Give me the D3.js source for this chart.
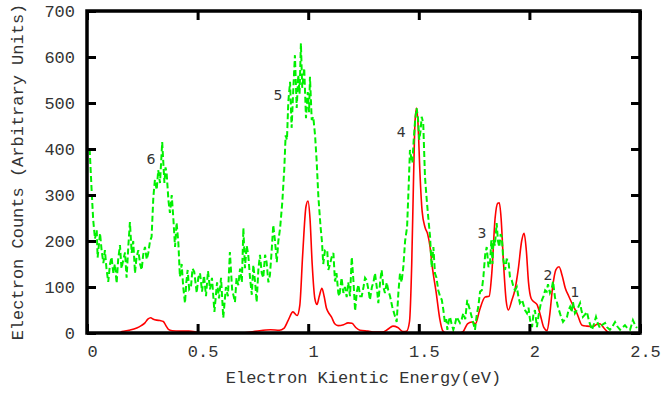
<!DOCTYPE html>
<html><head><meta charset="utf-8">
<script src="https://cdn.jsdelivr.net/npm/d3@7"></script>
<style>body{margin:0;background:#fff;} svg{display:block;}</style>
</head><body>
<svg id="chart" width="661" height="393"></svg>
<script>
// ---- data ----
const xTickValues = [0, 0.5, 1, 1.5, 2, 2.5];
const xTickLabels = ["0", "0.5", "1", "1.5", "2", "2.5"];
const yTickValues = [0, 100, 200, 300, 400, 500, 600, 700];
const yTickLabels = ["0", "100", "200", "300", "400", "500", "600", "700"];
const xTitle = "Electron Kientic Energy(eV)";
const yTitle = "Electron Counts (Arbitrary Units)";

const redEnergy = [0.150,0.158,0.190,0.225,0.245,0.262,0.275,0.288,0.300,0.315,0.330,0.345,0.358,0.368,0.385,0.420,0.460,0.496,0.520,0.700,0.740,0.780,0.830,0.870,0.890,0.910,0.931,0.950,0.962,0.975,0.990,0.999,1.008,1.018,1.030,1.040,1.050,1.062,1.072,1.082,1.090,1.105,1.120,1.135,1.160,1.180,1.198,1.215,1.234,1.270,1.300,1.335,1.360,1.383,1.405,1.429,1.445,1.458,1.468,1.476,1.483,1.490,1.497,1.505,1.515,1.528,1.540,1.550,1.562,1.578,1.595,1.608,1.625,1.680,1.700,1.720,1.740,1.756,1.775,1.799,1.818,1.830,1.845,1.857,1.864,1.872,1.882,1.895,1.905,1.920,1.935,1.950,1.965,1.976,1.986,1.996,2.008,2.020,2.034,2.050,2.065,2.080,2.092,2.105,2.120,2.134,2.148,2.162,2.178,2.195,2.215,2.238,2.260,2.288,2.305,2.319,2.335,2.355,2.370];
const redCounts = [0,3,6,11,16,22,30,33,30,28,27,25,15,8,5,4,4,2,0,0,2,5,7,6,10,28,46,38,60,170,275,287,250,150,75,62,80,97,80,55,46,35,20,16,18,22,21,12,6,4,2,2,8,15,12,3,4,25,150,330,460,489,450,350,265,230,215,190,140,90,30,5,0,0,3,20,24,20,50,78,80,130,250,282,283,250,160,70,50,70,95,140,200,217,180,110,75,68,62,38,12,5,40,100,138,144,125,98,80,62,43,17,15,14,19,20,12,2,0];

const greenEnergy = [0.012,0.022,0.028,0.036,0.044,0.048,0.059,0.066,0.074,0.081,0.088,0.096,0.104,0.111,0.119,0.126,0.134,0.141,0.149,0.156,0.164,0.172,0.179,0.187,0.194,0.202,0.209,0.217,0.224,0.232,0.240,0.247,0.254,0.262,0.270,0.277,0.285,0.292,0.300,0.307,0.315,0.322,0.330,0.340,0.350,0.355,0.360,0.368,0.375,0.383,0.390,0.398,0.405,0.413,0.420,0.428,0.435,0.443,0.449,0.455,0.462,0.470,0.477,0.485,0.496,0.503,0.511,0.520,0.529,0.538,0.547,0.556,0.565,0.576,0.588,0.597,0.606,0.616,0.628,0.637,0.646,0.656,0.669,0.676,0.684,0.692,0.700,0.707,0.714,0.722,0.729,0.737,0.745,0.752,0.760,0.767,0.775,0.782,0.790,0.797,0.805,0.812,0.820,0.827,0.835,0.842,0.850,0.858,0.865,0.873,0.883,0.892,0.898,0.904,0.910,0.918,0.925,0.933,0.940,0.948,0.955,0.961,0.967,0.973,0.982,0.990,0.998,1.004,1.008,1.016,1.023,1.031,1.038,1.046,1.056,1.062,1.068,1.076,1.086,1.091,1.099,1.106,1.114,1.121,1.128,1.136,1.141,1.151,1.159,1.166,1.174,1.181,1.189,1.197,1.205,1.212,1.220,1.227,1.235,1.242,1.250,1.257,1.264,1.272,1.279,1.288,1.295,1.302,1.310,1.317,1.325,1.332,1.340,1.347,1.355,1.362,1.370,1.380,1.390,1.400,1.408,1.415,1.422,1.430,1.438,1.447,1.455,1.460,1.466,1.471,1.477,1.483,1.490,1.496,1.502,1.508,1.513,1.520,1.528,1.536,1.543,1.551,1.558,1.566,1.573,1.580,1.588,1.596,1.604,1.611,1.618,1.624,1.629,1.635,1.641,1.648,1.656,1.664,1.671,1.679,1.686,1.694,1.701,1.710,1.719,1.725,1.731,1.742,1.754,1.762,1.769,1.777,1.785,1.792,1.800,1.807,1.815,1.822,1.828,1.833,1.837,1.844,1.852,1.858,1.864,1.870,1.875,1.882,1.890,1.897,1.905,1.912,1.920,1.928,1.935,1.943,1.950,1.957,1.967,1.980,1.989,1.996,2.003,2.012,2.018,2.025,2.034,2.042,2.050,2.057,2.064,2.071,2.078,2.084,2.093,2.100,2.107,2.116,2.123,2.129,2.140,2.152,2.161,2.170,2.177,2.184,2.191,2.197,2.206,2.215,2.229,2.235,2.242,2.251,2.260,2.270,2.283,2.292,2.301,2.310,2.319,2.330,2.342,2.352,2.364,2.375,2.387,2.398,2.410,2.421,2.432,2.444,2.455,2.462,2.468,2.477,2.486];
const greenCounts = [400,300,246,205,224,164,217,180,152,180,140,111,150,165,130,150,108,160,191,140,159,175,120,190,241,174,200,130,165,180,150,137,170,187,160,174,200,209,296,333,311,354,326,415,326,360,348,289,261,300,252,187,240,196,122,150,100,65,110,137,95,100,140,133,87,120,130,90,125,80,135,95,120,46,110,75,120,33,100,80,176,95,67,120,104,140,110,228,141,190,170,120,83,148,110,67,140,170,130,120,170,154,110,126,180,235,200,154,200,228,285,358,430,420,502,546,446,533,604,489,561,520,630,533,576,467,524,480,557,463,470,430,376,296,230,200,150,180,180,137,150,165,174,112,130,87,80,120,87,100,78,110,80,165,110,48,90,105,80,80,100,120,115,95,72,100,110,130,100,65,110,137,100,87,110,93,80,57,40,24,90,130,110,143,200,230,330,398,380,370,420,460,489,470,420,440,470,457,339,289,250,209,143,187,130,120,93,80,72,50,22,30,7,25,35,20,7,20,35,28,22,30,43,30,72,60,50,30,7,40,57,90,93,122,170,187,143,152,202,150,202,190,239,200,187,215,209,160,137,160,159,122,115,100,93,100,80,65,72,50,43,55,28,13,40,50,13,40,60,72,80,93,90,106,87,95,112,76,70,57,40,24,30,35,50,57,45,67,43,50,65,50,35,40,46,25,7,20,35,20,11,18,22,12,7,14,24,14,7,12,17,10,7,18,28,18,11];

const peakLabels = ["6", "5", "4", "3", "2", "1"];
const peakLabelEnergy = [0.289, 0.863, 1.420, 1.786, 2.084, 2.206];
const peakLabelCounts = [367, 507, 426, 207, 115, 78];

// ---- drawing ----
const svg = d3.select("#chart");
const plotLeft = 87, plotRight = 640, plotTop = 11, plotBottom = 333;
const x = d3.scaleLinear().domain([0, 2.5]).range([plotLeft, plotRight]);
const y = d3.scaleLinear().domain([0, 700]).range([plotBottom, plotTop]);
const monoFont = "'Liberation Mono', 'Courier New', monospace";
const textColor = "#333";

svg.append("rect").attr("width", 661).attr("height", 393).attr("fill", "#fff");

// red series
const redData = redEnergy.map((e, i) => [e, redCounts[i]]);
svg.append("path").datum(redData)
  .attr("fill", "none").attr("stroke", "#ff0000").attr("stroke-width", 1.6)
  .attr("stroke-linejoin", "round")
  .attr("d", d3.line().x(d => x(d[0])).y(d => y(d[1])).curve(d3.curveMonotoneX));

// green series
const greenData = greenEnergy.map((e, i) => [e, greenCounts[i]]);
svg.append("path").datum(greenData)
  .attr("fill", "none").attr("stroke", "#00f000").attr("stroke-width", 2)
  .attr("stroke-dasharray", "6,3")
  .attr("d", d3.line().x(d => x(d[0])).y(d => y(d[1])));

// peak labels
svg.append("g").selectAll("text").data(peakLabels).join("text")
  .attr("x", (d, i) => x(peakLabelEnergy[i]))
  .attr("y", (d, i) => y(peakLabelCounts[i]))
  .attr("text-anchor", "middle")
  .attr("font-family", "'DejaVu Sans', sans-serif")
  .attr("font-size", 14).attr("fill", textColor)
  .text(d => d);

// axes
function styleAxis(g) {
  g.select(".domain").remove();
  g.selectAll(".tick line").attr("stroke", "#000").attr("stroke-width", 3);
  g.selectAll(".tick text").attr("font-family", monoFont).attr("font-size", 17).attr("fill", textColor);
}
const xb = svg.append("g").attr("transform", `translate(0,${plotBottom})`)
  .call(d3.axisBottom(x).tickValues(xTickValues).tickFormat((d, i) => xTickLabels[i]).tickSize(-9).tickPadding(12))
  .call(styleAxis);
xb.selectAll(".tick text").attr("dx", 5);
svg.append("g").attr("transform", `translate(0,${plotTop})`)
  .call(d3.axisTop(x).tickValues(xTickValues).tickFormat("").tickSize(-9))
  .call(styleAxis);
svg.append("g").attr("transform", `translate(${plotLeft},0)`)
  .call(d3.axisLeft(y).tickValues(yTickValues).tickFormat((d, i) => yTickLabels[i]).tickSize(-9).tickPadding(12))
  .call(styleAxis);
svg.append("g").attr("transform", `translate(${plotRight},0)`)
  .call(d3.axisRight(y).tickValues(yTickValues).tickFormat("").tickSize(-9))
  .call(styleAxis);

// frame
svg.append("rect").attr("x", plotLeft).attr("y", plotTop)
  .attr("width", plotRight - plotLeft).attr("height", plotBottom - plotTop)
  .attr("fill", "none").attr("stroke", "#000").attr("stroke-width", 3.5);

// titles
svg.append("text").attr("x", (plotLeft + plotRight) / 2).attr("y", 383)
  .attr("text-anchor", "middle").attr("font-family", monoFont).attr("font-size", 17)
  .attr("fill", textColor).text(xTitle);
svg.append("text").attr("transform", `translate(23,${(plotTop + plotBottom) / 2}) rotate(-90)`)
  .attr("text-anchor", "middle").attr("font-family", monoFont).attr("font-size", 17)
  .attr("fill", textColor).text(yTitle);
</script>
</body></html>
